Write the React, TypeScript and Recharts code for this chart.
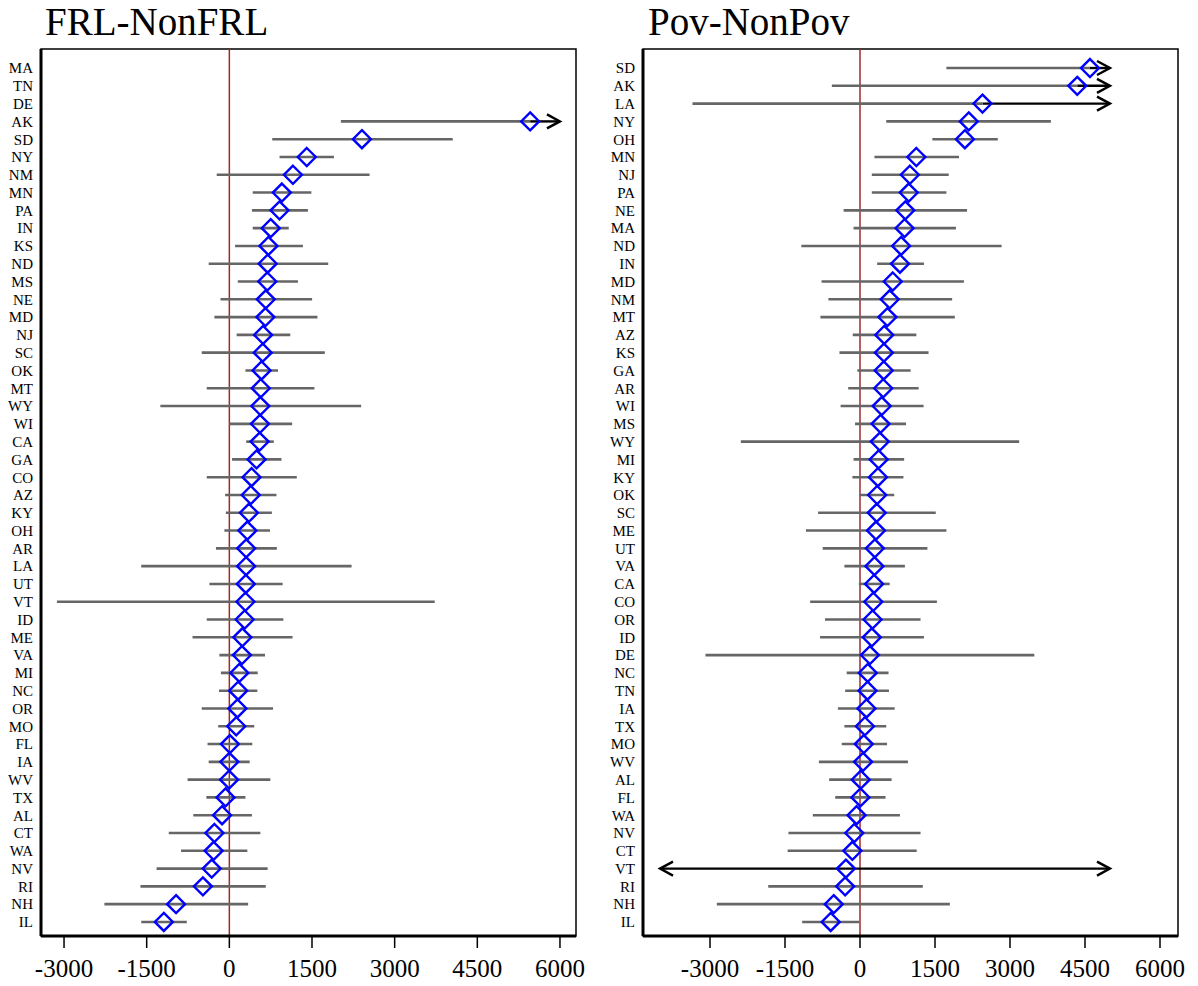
import React from 'react';
import { ComposedChart, Scatter, ErrorBar, XAxis, YAxis, ReferenceLine, ReferenceArea } from 'recharts';

// FRL-NonFRL panel (rows top to bottom); null est = no estimate, null hi = clipped (arrow)
const frlStates = ['MA', 'TN', 'DE', 'AK', 'SD', 'NY', 'NM', 'MN', 'PA', 'IN', 'KS', 'ND', 'MS', 'NE', 'MD', 'NJ', 'SC', 'OK', 'MT', 'WY', 'WI', 'CA', 'GA', 'CO', 'AZ', 'KY', 'OH', 'AR', 'LA', 'UT', 'VT', 'ID', 'ME', 'VA', 'MI', 'NC', 'OR', 'MO', 'FL', 'IA', 'WV', 'TX', 'AL', 'CT', 'WA', 'NV', 'RI', 'NH', 'IL'];
const frlEst = [null, null, null, 5459, 2406, 1405, 1154, 953, 911, 751, 709, 695, 688, 661, 654, 612, 605, 584, 570, 563, 556, 549, 494, 403, 389, 355, 327, 306, 304, 299, 292, 278, 236, 229, 181, 160, 146, 125, 10, 0, -5, -70, -132, -271, -285, -320, -480, -967, -1189];
const frlLo = [null, null, null, 2024, 779, 911, -229, 424, 410, 424, 104, -375, 153, -160, -271, 132, -501, 292, -410, -1252, 0, 306, 49, -410, -76, -63, -90, -243, -1599, -362, -3129, -410, -668, -181, -153, -188, -501, -202, -396, -375, -758, -417, -654, -1099, -876, -1321, -1613, -2267, -1599];
const frlHi = [null, null, null, null, 4054, 1898, 2545, 1488, 1426, 1078, 1335, 1794, 1245, 1502, 1599, 1106, 1732, 883, 1544, 2392, 1140, 807, 946, 1224, 855, 772, 737, 862, 2218, 967, 3727, 980, 1147, 647, 515, 508, 793, 452, 417, 369, 744, 292, 410, 563, 327, 695, 661, 341, -772];

// Pov-NonPov panel
const povStates = ['SD', 'AK', 'LA', 'NY', 'OH', 'MN', 'NJ', 'PA', 'NE', 'MA', 'ND', 'IN', 'MD', 'NM', 'MT', 'AZ', 'KS', 'GA', 'AR', 'WI', 'MS', 'WY', 'MI', 'KY', 'OK', 'SC', 'ME', 'UT', 'VA', 'CA', 'CO', 'OR', 'ID', 'DE', 'NC', 'TN', 'IA', 'TX', 'MO', 'WV', 'AL', 'FL', 'WA', 'NV', 'CT', 'VT', 'RI', 'NH', 'IL'];
const povEst = [4600, 4345, 2450, 2175, 2098, 1127, 997, 975, 906, 891, 822, 800, 655, 594, 548, 485, 478, 474, 464, 434, 411, 396, 373, 358, 343, 335, 320, 297, 289, 282, 266, 251, 236, 198, 155, 150, 129, 99, 76, 61, 15, 8, -69, -114, -152, -282, -297, -525, -586];
const povLo = [1728, -563, -3350, 525, 1447, 289, 236, 236, -327, -129, -1173, 343, -769, -632, -792, -145, -411, -53, -236, -388, -99, -2383, -129, -152, -8, -838, -1081, -746, -312, -23, -997, -700, -799, -3091, -266, -297, -442, -312, -365, -822, -617, -495, -944, -1431, -1447, null, -1835, -2863, -1157];
const povHi = [null, null, null, 3818, 2756, 1980, 1774, 1728, 2140, 1919, 2832, 1279, 2079, 1843, 1896, 1127, 1371, 1013, 1173, 1272, 921, 3183, 883, 868, 685, 1515, 1728, 1348, 898, 594, 1538, 1211, 1279, 3487, 571, 579, 693, 525, 541, 959, 632, 510, 799, 1211, 1134, null, 1256, 1797, -15];

const xTicks = [-3000, -1500, 0, 1500, 3000, 4500, 6000];

const serif = '"Liberation Serif", "Times New Roman", serif';

const Diamond = (p: any) => {
  const { cx, cy } = p;
  const r = 9;
  return (
    <path
      d={`M${cx},${cy - r} L${cx + r},${cy} L${cx},${cy + r} L${cx - r},${cy} Z`}
      fill="none"
      stroke="#0000ff"
      strokeWidth={2.4}
    />
  );
};

const ArrowHead = (p: any) => {
  const { cx, cy, payload } = p;
  const d = payload.dir;
  return (
    <path
      d={`M${cx - d * 13},${cy - 7} L${cx},${cy} L${cx - d * 13},${cy + 7}`}
      fill="none"
      stroke="#000"
      strokeWidth={2.4}
    />
  );
};

type PanelProps = {
  title: string;
  states: string[];
  est: (number | null)[];
  lo: (number | null)[];
  hi: (number | null)[];
  domain: [number, number];
  loLimit: number;
  hiLimit: number;
  left: number;
  width: number;
  axisWidth: number;
  marginRight: number;
  titleLeft: number;
};

const Panel = ({ title, states, est, lo, hi, domain, loLimit, hiLimit, left, width, axisWidth, marginRight, titleLeft }: PanelProps) => {
  const points: any[] = [];
  const arrows: any[] = [];
  states.forEach((s, i) => {
    const e = est[i];
    if (e == null) return;
    const l = lo[i];
    const h = hi[i];
    points.push({ x: e, y: i, err: [l == null ? 0 : e - l, h == null ? 0 : h - e] });
    if (h == null) arrows.push({ x: hiLimit, y: i, err: [hiLimit - e, 0], dir: 1 });
    if (l == null) arrows.push({ x: loLimit, y: i, err: [0, e - loLimit], dir: -1 });
  });
  const yDomain: [number, number] = [-1.07, states.length - 1 + 0.79];

  return (
    <div style={{ position: 'absolute', left, top: 0, width, height: 986 }}>
      <div
        style={{
          position: 'absolute',
          left: titleLeft,
          top: 2,
          fontFamily: serif,
          fontSize: 39,
          lineHeight: '39px',
          color: '#000',
          whiteSpace: 'nowrap',
        }}
      >
        {title}
      </div>
      <ComposedChart width={width} height={986} margin={{ top: 49, right: marginRight, bottom: 0, left: 0 }}>
        <ReferenceArea
          x1={domain[0]}
          x2={domain[1]}
          y1={yDomain[0]}
          y2={yDomain[1]}
          fill="none"
          stroke="#000"
          strokeWidth={1.5}
          fillOpacity={0}
        />
        <XAxis
          type="number"
          dataKey="x"
          domain={domain}
          allowDataOverflow
          ticks={xTicks}
          interval={0}
          height={50}
          tickSize={12}
          tickMargin={11}
          axisLine={{ stroke: '#000', strokeWidth: 3 }}
          tickLine={{ stroke: '#000', strokeWidth: 1.5 }}
          tick={{ fontSize: 25, fill: '#000', fontFamily: serif }}
        />
        <YAxis
          type="number"
          dataKey="y"
          domain={yDomain}
          allowDataOverflow
          reversed
          ticks={states.map((_, i) => i)}
          interval={0}
          width={axisWidth}
          tickSize={0}
          tickMargin={8}
          tickLine={false}
          axisLine={{ stroke: '#000', strokeWidth: 3 }}
          tickFormatter={(v: number) => states[v] ?? ''}
          tick={{ fontSize: 15, fill: '#000', fontFamily: serif }}
        />
        <ReferenceLine x={0} stroke="#9e2a2b" strokeWidth={1.5} />
        <Scatter data={arrows} shape={ArrowHead} isAnimationActive={false}>
          <ErrorBar dataKey="err" direction="x" width={0} stroke="#000" strokeWidth={2.4} isAnimationActive={false} />
        </Scatter>
        <Scatter data={points} shape={Diamond} isAnimationActive={false}>
          <ErrorBar dataKey="err" direction="x" width={0} stroke="#666666" strokeWidth={2.6} isAnimationActive={false} />
        </Scatter>
      </ComposedChart>
    </div>
  );
};

export default function App() {
  return (
    <div style={{ position: 'absolute', left: 0, top: 0, width: 1198, height: 986, background: '#fff' }}>
      <Panel
        title="FRL-NonFRL"
        states={frlStates}
        est={frlEst}
        lo={frlLo}
        hi={frlHi}
        domain={[-3418, 6291]}
        loLimit={-3418}
        hiLimit={6000}
        left={0}
        width={600}
        axisWidth={41}
        marginRight={24}
        titleLeft={45}
      />
      <Panel
        title="Pov-NonPov"
        states={povStates}
        est={povEst}
        lo={povLo}
        hi={povHi}
        domain={[-4340, 6360]}
        loLimit={-4000}
        hiLimit={5000}
        left={600}
        width={598}
        axisWidth={43}
        marginRight={20}
        titleLeft={48}
      />
    </div>
  );
}
